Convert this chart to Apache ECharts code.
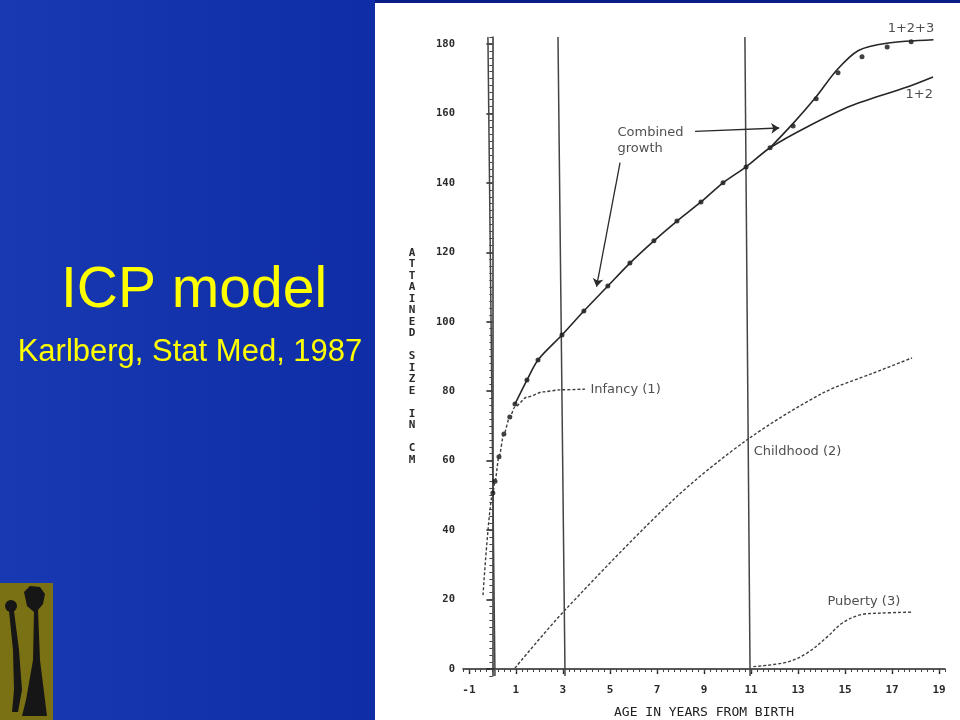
<!DOCTYPE html>
<html><head><meta charset="utf-8">
<script src="https://cdn.jsdelivr.net/npm/echarts@6/dist/echarts.min.js"></script>
<style>
html,body{margin:0;padding:0;width:960px;height:720px;overflow:hidden;background:#1534aa;}
#slide{position:absolute;left:0;top:0;width:960px;height:720px;background:linear-gradient(90deg,#1839b2 0px,#0e2da6 375px,#ffffff 375px);}
#strip{position:absolute;left:375px;top:0;width:585px;height:3px;background:#0a1c88;}
#chart{position:absolute;left:0;top:0;width:960px;height:720px;}
</style></head>
<body><div id="slide"></div><div id="strip"></div><div id="chart"></div>
<script>
// ---- data ----
const xTickLabels = [-1, 1, 3, 5, 7, 9, 11, 13, 15, 17, 19];
const yTickLabels = [0, 20, 40, 60, 80, 100, 120, 140, 160, 180];

// measured heights (dots)
const dotAge  = [0.02, 0.11, 0.28, 0.49, 0.74, 0.96, 1.47, 1.94, 2.96, 3.89, 4.91, 5.85, 6.87, 7.85, 8.87, 9.81, 10.79, 11.81, 12.79, 13.77, 14.70, 15.72, 16.79, 17.81];
const dotSize = [50.7, 54.1, 61.1, 67.7, 72.6, 76.3, 83.2, 89.0, 96.2, 103.1, 110.3, 116.9, 123.3, 129.0, 134.5, 140.0, 144.6, 150.1, 156.4, 164.2, 171.7, 176.3, 179.1, 180.6];

// combined growth curve 1+2 (solid)
const curve12Age  = [0.96, 1.47, 1.94, 2.96, 3.89, 4.91, 5.85, 6.87, 7.85, 8.87, 9.81, 10.79, 11.81, 13.38, 15.26, 17.64, 18.74];
const curve12Size = [76.3, 83.2, 89.0, 96.2, 103.1, 110.3, 116.9, 123.3, 129.0, 134.5, 140.0, 144.6, 150.1, 156.1, 162.2, 167.6, 170.5];

// combined growth curve 1+2+3 (solid)
const curve123Age  = [11.81, 12.80, 13.77, 14.65, 15.57, 16.77, 18.76];
const curve123Size = [150.1, 157.2, 164.8, 172.5, 178.1, 180.2, 181.2];

// Infancy (1) component (dashed)
const infancyAge  = [-0.40, 0.02, 0.11, 0.28, 0.49, 0.74, 0.96, 1.47, 2.15, 2.87, 3.94];
const infancySize = [21.3, 50.7, 54.1, 61.1, 67.7, 72.6, 75.5, 78.3, 79.8, 80.4, 80.6];

// Childhood (2) component (dashed)
const childhoodAge  = [0.96, 3.09, 7.77, 10.87, 14.06, 16.19, 17.85];
const childhoodSize = [0.3, 17.0, 49.2, 66.2, 79.5, 85.2, 89.6];

// Puberty (3) component (dashed)
const pubertyAge  = [11.10, 12.53, 13.38, 14.23, 14.87, 15.64, 16.49, 17.89];
const pubertySize = [0.7, 2.0, 4.6, 9.2, 13.2, 15.6, 16.1, 16.4];

// vertical phase dividers (birth, 3 y, 11 y) as drawn (slightly slanted scan)
const dividerTopAge    = [-0.19, 2.79, 10.74];
const dividerBottomAge = [0.11, 3.09, 10.96];
const dividerTopSize    = [182, 182, 182];
const dividerBottomSize = [-2, -2, -2];

// annotations
const labelText = ['Combined\ngrowth', 'Infancy (1)', 'Childhood (2)', 'Puberty (3)', '1+2+3', '1+2'];
const labelAge  = [5.30, 4.15, 11.09, 14.23, 16.79, 17.55];
const labelSize = [152.1, 80.6, 62.5, 19.3, 184.3, 165.3];

const arrowFromAge  = [8.62, 5.43];
const arrowFromSize = [154.8, 145.8];
const arrowToAge    = [12.20, 4.43];
const arrowToSize   = [155.8, 110.1];

const yAxisName = 'A\nT\nT\nA\nI\nN\nE\nD\n\nS\nI\nZ\nE\n\nI\nN\n\nC\nM';
const xAxisName = 'AGE IN YEARS FROM BIRTH';

// ---- chart ----
const MONO = '"DejaVu Sans Mono", "Liberation Mono", monospace';
const SANS = '"DejaVu Sans", "Liberation Sans", sans-serif';
const pairs = (xs, ys) => xs.map((x, i) => [x, ys[i]]);

const chart = echarts.init(document.getElementById('chart'), null, {renderer: 'canvas'});

const dashed = {color: '#3e3e3e', width: 1.4, type: [3, 2]};
const solid  = {color: '#262626', width: 1.6};

const series = [];
dividerTopAge.forEach((t, i) => {
  series.push({
    type: 'line', silent: true, symbol: 'none', z: 1,
    data: [[dividerTopAge[i], dividerTopSize[i]], [dividerBottomAge[i], dividerBottomSize[i]]],
    lineStyle: {color: '#444', width: 1.5}
  });
});
series.push({
  type: 'line', name: 'Infancy (1)', symbol: 'none', smooth: 0.3, smoothMonotone: 'x',
  data: pairs(infancyAge, infancySize), lineStyle: dashed
});
series.push({
  type: 'line', name: 'Childhood (2)', symbol: 'none', smooth: 0.3,
  data: pairs(childhoodAge, childhoodSize), lineStyle: dashed
});
series.push({
  type: 'line', name: 'Puberty (3)', symbol: 'none', smooth: 0.35,
  data: pairs(pubertyAge, pubertySize), lineStyle: dashed
});
series.push({
  type: 'line', name: '1+2', symbol: 'none', smooth: 0.3,
  data: pairs(curve12Age, curve12Size), lineStyle: solid,
  markLine: {
    silent: true, symbol: ['none', 'arrow'], symbolSize: 8,
    label: {show: false},
    lineStyle: {color: '#2a2a2a', width: 1.3, type: 'solid'},
    data: arrowFromAge.map((a, i) => [
      {coord: [arrowFromAge[i], arrowFromSize[i]]},
      {coord: [arrowToAge[i], arrowToSize[i]]}
    ])
  }
});
series.push({
  type: 'line', name: '1+2+3', symbol: 'none', smooth: 0.3,
  data: pairs(curve123Age, curve123Size), lineStyle: solid
});
series.push({
  type: 'scatter', name: 'measured', symbol: 'circle', symbolSize: 5,
  data: pairs(dotAge, dotSize), itemStyle: {color: '#111'}
});
series.push({
  type: 'scatter', name: 'labels', silent: true, clip: false, symbolSize: 1,
  itemStyle: {color: 'rgba(0,0,0,0)'},
  label: {show: true, position: 'right', distance: 0, fontFamily: SANS, fontSize: 13, lineHeight: 16, color: '#222'},
  data: labelText.map((t, i) => ({value: [labelAge[i], labelSize[i]], label: {formatter: t}}))
});

const option = {
  animation: false,
  backgroundColor: 'transparent',
  grid: {left: 463, right: 15, top: 37, bottom: 44, containLabel: false, outerBoundsMode: 'none'},
  xAxis: [
    {
      type: 'value', min: -1.25, max: 19.25, position: 'bottom',
      axisLine: {show: true, lineStyle: {color: '#222', width: 1.6}},
      axisTick: {show: true, customValues: xTickLabels, length: 5, lineStyle: {color: '#222', width: 1.4}},
      axisLabel: {customValues: xTickLabels, margin: 9, fontFamily: MONO, fontSize: 11, fontWeight: 'bold', color: '#2a2a2a'},
      splitLine: {show: false},
      name: xAxisName, nameLocation: 'middle', nameGap: 37,
      nameTextStyle: {fontFamily: MONO, fontSize: 13, color: '#222', verticalAlign: 'middle'}
    },
    {
      type: 'value', min: -1.25, max: 19.25, interval: 0.25, position: 'bottom',
      axisLine: {show: false},
      axisTick: {show: true, length: 3, lineStyle: {color: '#444', width: 1}},
      axisLabel: {show: false}, splitLine: {show: false}
    }
  ],
  yAxis: [
    {
      type: 'value', min: -2, max: 182, position: 'left',
      axisLine: {show: true, lineStyle: {color: '#333', width: 1.5}},
      axisTick: {show: true, customValues: yTickLabels, length: 6, lineStyle: {color: '#222', width: 1.5}},
      axisLabel: {customValues: yTickLabels, margin: 8, fontFamily: MONO, fontSize: 10.5, fontWeight: 'bold', color: '#2a2a2a'},
      splitLine: {show: false},
      name: yAxisName, nameLocation: 'middle', nameGap: 51, nameRotate: 0,
      nameTextStyle: {fontFamily: MONO, fontSize: 11, fontWeight: 'bold', color: '#2a2a2a', lineHeight: 11.5,
        align: 'center', verticalAlign: 'middle', padding: [24, 0, 0, 0]}
    },
    {
      type: 'value', min: -2, max: 182, interval: 2, position: 'left',
      axisLine: {show: false},
      axisTick: {show: true, length: 3, lineStyle: {color: '#444', width: 1}},
      axisLabel: {show: false}, splitLine: {show: false}
    }
  ],
  graphic: [
    {type: 'text', silent: true, x: 194, y: 291,
      style: {text: 'ICP model', fill: '#ffff00', font: '57px "Liberation Sans", Arial, sans-serif', align: 'center', verticalAlign: 'middle'}},
    {type: 'text', silent: true, x: 190, y: 352,
      style: {text: 'Karlberg, Stat Med, 1987', fill: '#ffff00', font: '31px "Liberation Sans", Arial, sans-serif', align: 'center', verticalAlign: 'middle'}},
    {type: 'rect', silent: true, shape: {x: 0, y: 583, width: 53, height: 137}, style: {fill: '#7a7114'}},
    {type: 'polygon', silent: true, shape: {points: [[24,592],[30,586],[40,587],[45,594],[43,604],[38,610],[40,660],[45,700],[47,716],[22,716],[26,700],[33,660],[34,612],[27,606]]}, style: {fill: '#161616'}},
    {type: 'circle', silent: true, shape: {cx: 11, cy: 606, r: 6}, style: {fill: '#161616'}},
    {type: 'polygon', silent: true, shape: {points: [[9,611],[14,611],[19,650],[22,690],[18,712],[12,712],[14,690],[13,650]]}, style: {fill: '#161616'}}
  ],
  series: series
};
chart.setOption(option);
</script>
</body></html>
